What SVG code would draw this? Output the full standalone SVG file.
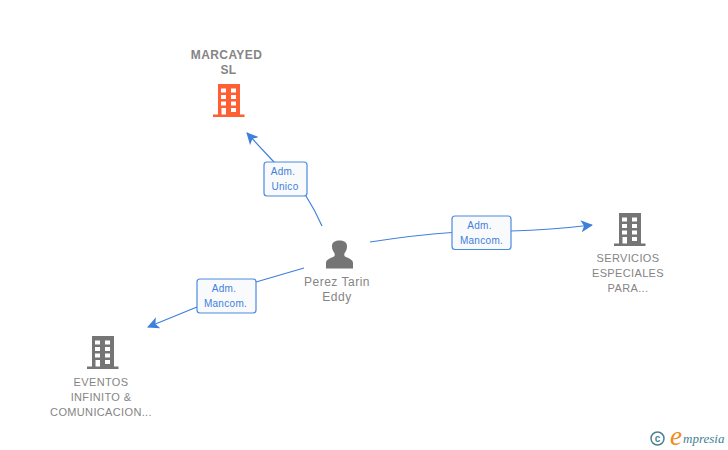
<svg xmlns="http://www.w3.org/2000/svg" width="728" height="450" viewBox="0 0 728 450">
<style>
text{font-family:"Liberation Sans",Arial,sans-serif}
.n{font-size:11px;fill:#858585;text-anchor:middle;letter-spacing:.35px}
.t{font-size:12px;font-weight:bold;fill:#858585;text-anchor:middle;letter-spacing:.4px}
.p{font-size:12px;fill:#858585;text-anchor:middle;letter-spacing:.5px}
.l{font-size:10px;fill:#3f7fdc;text-anchor:middle;letter-spacing:.3px}
.c{fill:none;stroke:#3f7fdc;stroke-width:1.2}
.b{fill:#f8fafc;stroke:#4c8ae0;stroke-width:1.2}
</style>
<defs>
<marker id="a" markerUnits="userSpaceOnUse" markerWidth="13" markerHeight="12" refX="11" refY="6" orient="auto"><path d="M0 0L12 6L0 12L3 6Z" fill="#3f7fdc"/></marker>
<symbol id="bld" viewBox="0 0 32 33" width="32" height="33"><path fill-rule="evenodd" d="M5 0H27V30.500H31.500V33H0V30.500H5ZM8 4.500V8.500H13V4.500ZM18 4.500V8.500H23V4.500ZM8 11V15H13V11ZM18 11V15H23V11ZM8 17.500V21.500H13V17.500ZM18 17.500V21.500H23V17.500ZM8.500 24V30.500H13V24ZM18 24V28H23V24Z"/></symbol>
</defs>
<g id="connectors">
<path class="c" marker-end="url(#a)" d="M322 226Q315 210 306 196L273 161L247 133"/>
<path class="c" marker-end="url(#a)" d="M370 242Q415 235 452 232.500M511 231Q550 230 592 225"/>
<path class="c" marker-end="url(#a)" d="M304 268L256 282M197 307L148 327"/>
</g>
<g id="node-marcayed">
<text class="t" x="226.500" y="59">MARCAYED</text><text class="t" x="228.500" y="74">SL</text>
<use href="#bld" x="213" y="84" fill="#ff5f33"/>
</g>
<g id="node-servicios">
<use href="#bld" x="614" y="213" fill="#757575"/>
<text class="n" x="628" y="262">SERVICIOS</text><text class="n" x="628" y="277">ESPECIALES</text><text class="n" x="628" y="292">PARA...</text>
</g>
<g id="node-eventos">
<use href="#bld" x="87" y="336" fill="#757575"/>
<text class="n" x="101" y="386">EVENTOS</text><text class="n" x="101" y="401">INFINITO &amp;</text><text class="n" x="101" y="416">COMUNICACION...</text>
</g>
<g id="node-perez">
<path fill="#757575" d="M326 268.500V263C326 259.500 330 258.500 334 256.500C335 255.500 335 254 334 252.500C332 250 332 247 332 246C332 242 335.500 240.500 339.500 240.500C343.500 240.500 347 242 347 246C347 247 347 250 345 252.500C344 254 344 255.500 345 256.500C349 258.500 353 259.500 353 263V268.500Z"/>
<text class="p" x="337" y="286">Perez Tarin</text><text class="p" x="337" y="301">Eddy</text>
</g>
<g id="edge-label-unico">
<rect class="b" x="264" y="162" width="43" height="34" rx="3"/>
<text class="l" x="283" y="175">Adm.</text><text class="l" x="285" y="190">Unico</text>
</g>
<g id="edge-label-mancom-right">
<rect class="b" x="452" y="216" width="59" height="33.500" rx="3"/>
<text class="l" x="479.500" y="229">Adm.</text><text class="l" x="481.500" y="244">Mancom.</text>
</g>
<g id="edge-label-mancom-left">
<rect class="b" x="197" y="279" width="59" height="34" rx="3"/>
<text class="l" x="224" y="292">Adm.</text><text class="l" x="225.500" y="307">Mancom.</text>
</g>
<g id="logo">
<circle cx="657.500" cy="438.500" r="6.500" fill="none" stroke="#4a8294" stroke-width="1.500"/>
<text x="657.500" y="442" font-size="10" font-weight="bold" fill="#4a8294" text-anchor="middle">c</text>
<text x="670" y="445" font-size="27" font-style="italic" fill="#f08a1d" style="font-family:'Liberation Serif',serif">e</text>
<text x="683" y="443" font-size="13" font-style="italic" fill="#3f7f92" style="font-family:'Liberation Serif',serif">mpresia</text>
</g>
</svg>
